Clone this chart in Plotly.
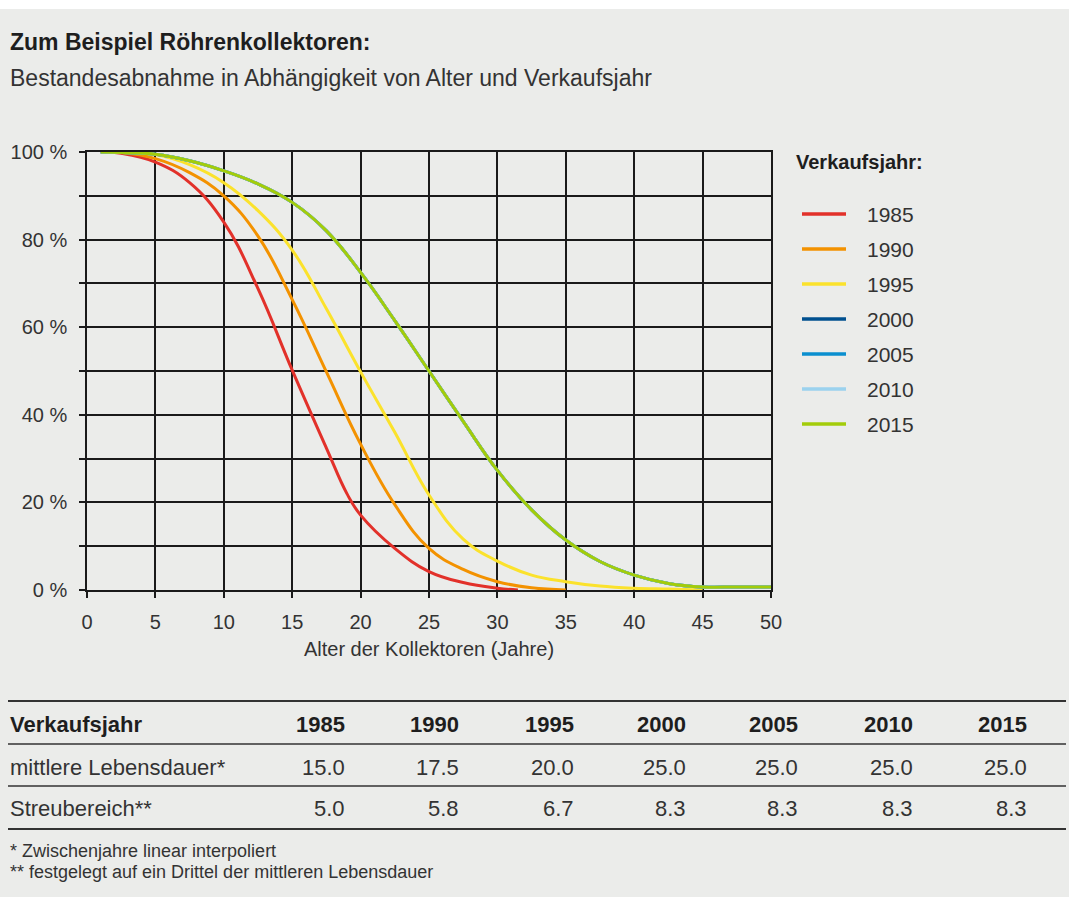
import plotly.graph_objects as go

# ---------------- data ----------------
series_names = ["1985", "1990", "1995", "2000", "2005", "2010", "2015"]
series_colors = ["#e2312a", "#f39200", "#fbe22c", "#00508f", "#0a8fcf", "#9bd2ee", "#a3cc0a"]

age_1985 = [1, 2.5, 5, 7.5, 10, 12.5, 15, 17.5, 19, 20, 22.5, 25, 27.5, 30, 31.5]
val_1985 = [100, 99.7, 97.7, 93.0, 84.0, 68.8, 50.2, 32.4, 22.0, 17.1, 9.5, 4.2, 1.7, 0.4, 0]

age_1990 = [1.8, 2.5, 5, 7.5, 10, 12.5, 15, 17.5, 20, 22.5, 25, 27.5, 30, 32.5, 35]
val_1990 = [100, 99.9, 98.5, 95.3, 90.0, 80.8, 66.3, 49.8, 33.3, 19.5, 9.5, 4.7, 1.9, 0.5, 0]

age_1995 = [1, 2.5, 5, 7.5, 10, 12.5, 15, 17.5, 20, 22.5, 25, 27.5, 30, 32.5, 35, 37.5, 40, 42.5, 45]
val_1995 = [100, 99.9, 99.4, 97.1, 93.0, 86.6, 77.6, 64.2, 49.8, 36.0, 21.7, 11.6, 6.6, 3.4, 1.9, 0.9, 0.4, 0.2, 0]

age_2000 = [1, 2.5, 5, 7.5, 10, 12.5, 15, 17.5, 20, 22.5, 25, 27.5, 30, 32.5, 35, 37.5, 40, 42.5, 45, 47.5, 50]
val_2000 = [100, 99.9, 99.5, 98.0, 95.7, 92.7, 88.5, 82.0, 72.5, 61.5, 50.0, 38.5, 27.3, 18.3, 11.4, 6.5, 3.4, 1.5, 0.7, 0.7, 0.7]
age_2005 = list(age_2000)
val_2005 = list(val_2000)
age_2010 = list(age_2000)
val_2010 = list(val_2000)
age_2015 = list(age_2000)
val_2015 = list(val_2000)

ages = [age_1985, age_1990, age_1995, age_2000, age_2005, age_2010, age_2015]
vals = [val_1985, val_1990, val_1995, val_2000, val_2005, val_2010, val_2015]

x_ticks = [0, 5, 10, 15, 20, 25, 30, 35, 40, 45, 50]
y_ticks = [0, 10, 20, 30, 40, 50, 60, 70, 80, 90, 100]
y_ticktext = ["0 %", "", "20 %", "", "40 %", "", "60 %", "", "80 %", "", "100 %"]

table_header = "Verkaufsjahr"
table_years = ["1985", "1990", "1995", "2000", "2005", "2010", "2015"]
row_labels = ["mittlere Lebensdauer*", "Streubereich**"]
mean_life = [15.0, 17.5, 20.0, 25.0, 25.0, 25.0, 25.0]
spread = [5.0, 5.8, 6.7, 8.3, 8.3, 8.3, 8.3]

title = "Zum Beispiel Röhrenkollektoren:"
subtitle = "Bestandesabnahme in Abhängigkeit von Alter und Verkaufsjahr"
x_title = "Alter der Kollektoren (Jahre)"
legend_title = "Verkaufsjahr:"
footnotes = ["* Zwischenjahre linear interpoliert",
             "** festgelegt auf ein Drittel der mittleren Lebensdauer"]

# ---------------- layout helpers ----------------
W, H = 1069, 897
L, R, T, B = 87, 771, 152, 590
FONT = "Liberation Sans, Arial, Helvetica, sans-serif"
BG = "#ebecea"
DARK = "#1e1e1e"
TXT = "#333333"


def px(x):
    return (x - L) / (R - L)


def py(y):
    return (B - y) / (B - T)


def note(text, x, y, size, color=TXT, anchor="left"):
    return dict(text=text, x=px(x), y=py(y), xref="paper", yref="paper",
                xanchor=anchor, yanchor="middle", showarrow=False,
                font=dict(family=FONT, size=size, color=color))


fig = go.Figure()
for name, color, a, v in zip(series_names, series_colors, ages, vals):
    fig.add_trace(go.Scatter(x=a, y=v, mode="lines", name=name,
                             line=dict(color=color, width=3, shape="spline", smoothing=1.2),
                             showlegend=False, hoverinfo="x+y+name"))

shapes = []
annotations = []

# white strip at the top
shapes.append(dict(type="rect", xref="paper", yref="paper", x0=px(-5), x1=px(W + 5),
                   y0=py(9), y1=py(-5), fillcolor="white", line=dict(width=0), layer="below"))

annotations.append(note("<b>" + title + "</b>", 8, 42, 23, DARK))
annotations.append(note(subtitle, 8, 78, 23))

# legend
annotations.append(note("<b>" + legend_title + "</b>", 794, 162, 20, DARK))
for i, (name, color) in enumerate(zip(series_names, series_colors)):
    yy = 214 + i * 35
    shapes.append(dict(type="line", xref="paper", yref="paper", x0=px(802), x1=px(846),
                       y0=py(yy), y1=py(yy), line=dict(color=color, width=3.5)))
    annotations.append(note(name, 865, yy, 21))

# table
col_right = [347, 461, 576, 688, 800, 915, 1029]
row_y = [724, 767, 808]
line_y = [(701, 2), (744, 1.5), (786, 1.5), (829, 2)]
for ly, lw in line_y:
    shapes.append(dict(type="line", xref="paper", yref="paper", x0=px(8), x1=px(1066),
                       y0=py(ly), y1=py(ly), line=dict(color=TXT, width=lw)))

annotations.append(note("<b>" + table_header + "</b>", 8, row_y[0], 22, DARK))
for cx, yr in zip(col_right, table_years):
    annotations.append(note("<b>" + yr + "</b>", cx, row_y[0], 22, DARK, "right"))
for ri, (lab, rowvals) in enumerate(zip(row_labels, [mean_life, spread])):
    yy = row_y[ri + 1]
    annotations.append(note(lab, 8, yy, 22))
    for cx, v in zip(col_right, rowvals):
        annotations.append(note(f"{v:.1f}", cx, yy, 22, TXT, "right"))

for i, fn in enumerate(footnotes):
    annotations.append(note(fn, 8, 851 + i * 21, 18))

fig.update_layout(
    width=W, height=H,
    margin=dict(l=L, r=W - R, t=T, b=H - B, pad=0),
    paper_bgcolor=BG, plot_bgcolor=BG,
    showlegend=False,
    shapes=shapes, annotations=annotations,
    font=dict(family=FONT, size=20, color=TXT),
)
fig.update_xaxes(range=[0, 50], tickvals=x_ticks, ticktext=[str(t) for t in x_ticks],
                 showgrid=True, gridcolor="#1a1a1a", gridwidth=1.5, zeroline=False,
                 showline=True, mirror=True, linecolor="#1a1a1a", linewidth=1.5,
                 ticks="outside", ticklen=6, tickwidth=1.5, tickcolor="#1a1a1a",
                 ticklabelstandoff=7,
                 tickfont=dict(family=FONT, size=20, color=TXT),
                 title=dict(text=x_title, font=dict(family=FONT, size=20, color=TXT), standoff=10))
fig.update_yaxes(range=[0, 100], tickvals=y_ticks, ticktext=y_ticktext,
                 showgrid=True, gridcolor="#1a1a1a", gridwidth=1.5, zeroline=False,
                 showline=True, mirror=True, linecolor="#1a1a1a", linewidth=1.5,
                 ticks="outside", ticklen=6, tickwidth=1.5, tickcolor="#1a1a1a",
                 ticklabelstandoff=8,
                 tickfont=dict(family=FONT, size=20, color=TXT))

fig.write_html("out.html", config={"displayModeBar": False},
               post_script="document.body.style.margin='0';document.body.style.overflow='hidden';")
